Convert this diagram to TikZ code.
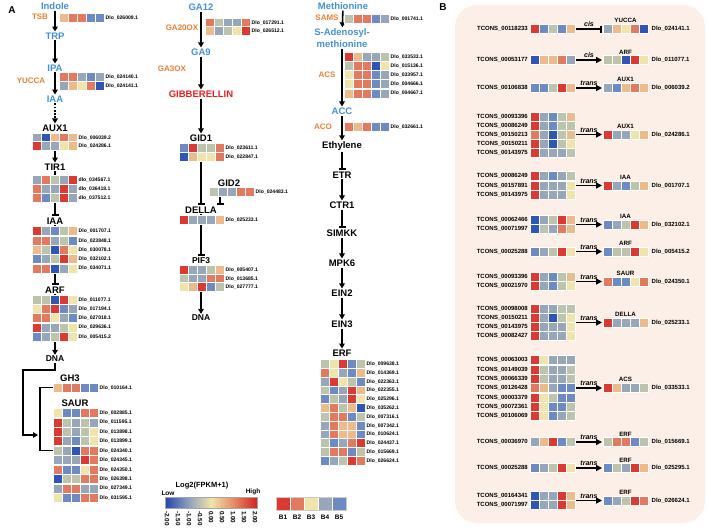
\documentclass[tikz,border=0pt]{standalone}
\usepackage{fontspec}
\setmainfont{Liberation Sans}
\usetikzlibrary{arrows.meta}

\definecolor{metblue}{HTML}{4291D8}
\definecolor{enzorange}{HTML}{EF7D32}
\definecolor{gared}{HTML}{EC1C1C}
\definecolor{panelbg}{HTML}{FCEFE7}
\definecolor{hmR}{HTML}{DA3A31}
\definecolor{hmS}{HTML}{E3795F}
\definecolor{hmP}{HTML}{EDBA8B}
\definecolor{hmY}{HTML}{EFE5AC}
\definecolor{hmG}{HTML}{BDC4AE}
\definecolor{hmL}{HTML}{97A6B8}
\definecolor{hmU}{HTML}{6E8AC2}
\definecolor{hmD}{HTML}{2F55B6}
\definecolor{lgD}{HTML}{2445AE}
\definecolor{lgM}{HTML}{8C9DBA}
\definecolor{lgO}{HTML}{E58A62}
\definecolor{lgR}{HTML}{D3211F}

\tikzset{
  panel/.style={font=\fontsize{10}{12}\selectfont\bfseries, inner sep=1pt},
  met/.style={text=metblue, font=\fontsize{9.5}{12}\selectfont\bfseries, inner sep=1pt, align=center},
  enz/.style={text=enzorange, font=\fontsize{8}{9}\selectfont\bfseries, inner sep=1pt},
  gene/.style={font=\fontsize{9.5}{11}\selectfont\bfseries, inner sep=1pt},
  dlo/.style={anchor=west, font=\fontsize{5.1}{6}\selectfont\bfseries, inner sep=0.5pt},
  tcons/.style={anchor=east, font=\fontsize{6}{7}\selectfont\bfseries, inner sep=0.5pt},
  bgene/.style={anchor=south, font=\fontsize{6.2}{7}\selectfont\bfseries, inner sep=1pt},
  bdlo/.style={anchor=west, font=\fontsize{6}{7}\selectfont\bfseries, inner sep=0.5pt},
  reg/.style={above, font=\fontsize{7}{8}\selectfont\bfseries\itshape, inner sep=1.2pt},
  hmcell/.style={draw=white, line width=0.5pt},
  act/.style={line width=1.6pt, -{Triangle[length=5pt,width=5.5pt]}},
  inh/.style={line width=1.6pt, -{Bar[width=7pt]}, shorten >=0.8pt},
  dotact/.style={act, dash pattern=on 1.8pt off 1.4pt},
  bact/.style={line width=1.8pt, -{Triangle[length=6pt,width=6pt]}},
  binh/.style={line width=1.8pt, -{Bar[width=7pt]}},
  link/.style={line width=1.5pt},
  legend/.style={font=\fontsize{7.5}{9}\selectfont\bfseries, inner sep=1pt},
  legsmall/.style={font=\fontsize{6.5}{8}\selectfont\bfseries, inner sep=1pt},
}

% one heatmap row of five cells, top left corner at (#1,#2)
\newcommand{\hmcells}[3]{%
  \foreach \cl [count=\k from 0] in {#3}
    \filldraw[hmcell, fill=hm\cl] ({#1+9*\k},{#2}) rectangle ++(9,9);%
}
\newcounter{dlocnt}
\newcommand{\hmrow}[4]{%
  \hmcells{#1}{#2}{#3}%
  \stepcounter{dlocnt}%
  \node[dlo] (dlo\arabic{dlocnt}) at ({#1+46},{#2+4.5}) {#4};%
}
% panel B: lncRNA row (centre y, cells, name)
\newcounter{tccnt}
\newcommand{\tcrow}[3]{%
  \hmcells{530}{#1-4.5}{#2}%
  \stepcounter{tccnt}%
  \node[tcons] (tc\arabic{tccnt}) at (528.5,{#1}) {#3};%
}
% panel B: target gene (centre y, gene, cells, Dlo, cis/trans, arrow style)
\newcounter{bcnt}
\newcommand{\target}[6]{%
  \stepcounter{bcnt}%
  \hmcells{603}{#1-4.5}{#3}%
  \node[bgene] (bg\arabic{bcnt}) at (625.5,{#1-4.8}) {#2};%
  \node[bdlo] (bd\arabic{bcnt}) at (651,{#1}) {#4};%
  \coordinate (bs\arabic{bcnt}) at (576,{#1});%
  \coordinate (be\arabic{bcnt}) at (602,{#1});%
  \draw[#6] (bs\arabic{bcnt}) -- node[reg] {#5} (be\arabic{bcnt});%
}

\begin{document}
\begin{tikzpicture}[x=1pt,y=-1pt]
\useasboundingbox (0,0) rectangle (708,531);

\fill[panelbg, rounded corners=22pt] (455,5) rectangle (705,523);

\node[panel] (lblA) at (12,10) {A};
\node[panel] (lblB) at (443,7) {B};

% auxin
\node[met] (indole) at (55,6) {Indole};
\node[enz] (tsb) at (40,17) {TSB};
\node[met] (trp) at (55,36) {TRP};
\node[met] (ipa) at (55,68) {IPA};
\node[enz] (yucca) at (31,81) {YUCCA};
\node[met] (iaa) at (55,99) {IAA};
\node[gene] (aux1) at (55,128) {AUX1};
\node[gene] (tir1) at (55,167) {TIR1};
\node[gene] (iaab) at (55,221) {IAA};
\node[gene] (arf) at (55,290) {ARF};
\node[gene, font=\fontsize{8.5}{10}\selectfont\bfseries] (dnal) at (55,359) {DNA};
\node[gene] (gh3) at (70,378) {GH3};
\node[gene] (saur) at (75,403) {SAUR};

% gibberellin
\node[met] (ga12) at (201,7) {GA12};
\node[enz] (ga20ox) at (182,28) {GA20OX};
\node[met] (ga9) at (201,52) {GA9};
\node[enz] (ga3ox) at (172,69) {GA3OX};
\node[gene, text=gared] (gib) at (201,94) {GIBBERELLIN};
\node[gene] (gid1) at (201,138) {GID1};
\node[gene] (gid2) at (229,183) {GID2};
\node[gene] (della) at (201,210) {DELLA};
\node[gene, font=\fontsize{8.5}{10}\selectfont\bfseries] (pif3) at (201,261) {PIF3};
\node[gene, font=\fontsize{8.5}{10}\selectfont\bfseries] (dnam) at (201,318) {DNA};

% ethylene
\node[met] (methionine) at (343,6) {Methionine};
\node[enz] (sams) at (327,18) {SAMS};
\node[met] (sam) at (342,38) {S-Adenosyl-\\methionine};
\node[enz] (acs) at (327,75) {ACS};
\node[met] (acc) at (342,111) {ACC};
\node[enz] (aco) at (323,127) {ACO};
\node[gene] (ethylene) at (342,146) {Ethylene};
\node[gene] (etr) at (342,175) {ETR};
\node[gene] (ctr1) at (342,205) {CTR1};
\node[gene] (simkk) at (342,233) {SIMKK};
\node[gene] (mpk6) at (342,263) {MPK6};
\node[gene] (ein2) at (342,293) {EIN2};
\node[gene] (ein3) at (342,324) {EIN3};
\node[gene] (erf) at (342,353) {ERF};

% connectors (heatmaps are drawn on top)
\draw[act] (indole) -- (trp);
\draw[act] (trp) -- (ipa);
\draw[act] (ipa) -- (iaa);
\draw[dotact] (iaa) -- (aux1);
\draw[act] (aux1) -- (tir1);
\draw[inh] (tir1) -- (iaab);
\draw[inh] (iaab) -- (arf);
\draw[act] (arf) -- (dnal);
\coordinate (dnaturn) at (23,370);
\coordinate (dnatip) at (38,435);
\draw[act] (dnal) |- (dnaturn) |- (dnatip);
\coordinate (gh3in) at (52.5,387.5);
\coordinate (saurin) at (52.5,450.6);
\draw[link] (gh3in) -- ++(-12.5,0) |- (saurin);

\draw[act] (ga12) -- (ga9);
\draw[act] (ga9) -- (gib);
\draw[act] (gib) -- (gid1);
\draw[inh] (gid1) -- (della);
\coordinate (gid2hm) at (220,196.5);
\draw[inh] (gid2hm) -- (gid2hm |- della.north);
\draw[inh] (della) -- (pif3);
\draw[act] (pif3) -- (dnam);

\draw[act] (methionine) -- (sam);
\draw[act] (sam) -- (acc);
\draw[act] (acc) -- (ethylene);
\draw[inh] (ethylene) -- (etr);
\draw[act] (etr) -- (ctr1);
\draw[inh] (ctr1) -- (simkk);
\draw[act] (simkk) -- (mpk6);
\draw[act] (mpk6) -- (ein2);
\draw[act] (ein2) -- (ein3);
\draw[act] (ein3) -- (erf);

% heatmaps, auxin
\hmrow{59}{13}{P,S,S,U,U}{Dlo\_026009.1}
\hmrow{59}{72.5}{S,S,L,U,L}{Dlo\_024140.1}
\hmrow{59}{81}{L,P,Y,S,D}{Dlo\_024141.1}
\hmrow{32}{133}{L,D,P,S,P}{Dlo\_006039.2}
\hmrow{32}{141.5}{R,L,L,Y,P}{Dlo\_024286.1}
\hmrow{32}{175}{L,S,G,L,R}{dlo\_034567.1}
\hmrow{32}{184}{S,L,L,R,L}{dlo\_036418.1}
\hmrow{32}{193}{S,U,G,R,L}{dlo\_037512.1}
\hmrow{32}{226.7}{R,L,U,G,P}{Dlo\_001707.1}
\hmrow{32}{236}{S,S,L,G,U}{Dlo\_023848.1}
\hmrow{32}{245.3}{P,G,D,S,Y}{Dlo\_030078.1}
\hmrow{32}{254.6}{U,L,G,R,P}{Dlo\_032102.1}
\hmrow{32}{263.9}{S,S,D,L,Y}{Dlo\_034071.1}
\hmrow{32}{295}{G,G,D,R,Y}{Dlo\_011077.1}
\hmrow{32}{304.3}{Y,S,R,U,L}{Dlo\_017194.1}
\hmrow{32}{313.6}{S,S,Y,L,U}{Dlo\_027018.1}
\hmrow{32}{322.9}{R,L,L,G,Y}{Dlo\_029636.1}
\hmrow{32}{332.2}{U,L,G,R,Y}{Dlo\_005415.2}
\hmrow{53}{383}{P,S,S,U,U}{Dlo\_010164.1}
\hmrow{53}{408.3}{Y,U,U,S,S}{Dlo\_002885.1}
\hmrow{53}{417.8}{R,G,L,G,L}{Dlo\_011595.1}
\hmrow{53}{427.2}{R,G,L,G,Y}{Dlo\_013898.1}
\hmrow{53}{436.7}{R,L,U,G,Y}{Dlo\_013899.1}
\hmrow{53}{446.1}{G,L,D,S,S}{Dlo\_024340.1}
\hmrow{53}{455.6}{L,L,L,R,S}{Dlo\_024345.1}
\hmrow{53}{465}{S,U,U,Y,S}{Dlo\_024350.1}
\hmrow{53}{474.5}{D,G,G,S,S}{Dlo\_026398.1}
\hmrow{53}{483.9}{L,S,S,L,L}{Dlo\_027349.1}
\hmrow{53}{493.4}{Y,U,U,S,S}{Dlo\_031595.1}

% heatmaps, gibberellin
\hmrow{205}{18}{S,G,L,L,S}{Dlo\_017291.1}
\hmrow{205}{26.7}{P,L,G,Y,R}{Dlo\_026512.1}
\hmrow{179}{143.3}{U,R,G,G,S}{Dlo\_023611.1}
\hmrow{179}{152.7}{D,P,Y,Y,S}{Dlo\_022847.1}
\hmrow{209}{187.7}{G,L,L,S,S}{Dlo\_024483.1}
\hmrow{179}{215}{R,L,L,L,P}{Dlo\_025233.1}
\hmrow{179}{265.5}{R,L,L,G,P}{Dlo\_005407.1}
\hmrow{179}{274.1}{G,L,L,S,S}{Dlo\_013685.1}
\hmrow{179}{282.7}{Y,P,R,U,G}{Dlo\_027777.1}

% heatmaps, ethylene
\hmrow{344}{14}{G,S,S,U,L}{Dlo\_001741.1}
\hmrow{344}{52}{R,P,L,L,G}{Dlo\_033533.1}
\hmrow{344}{61.2}{G,S,S,D,Y}{Dlo\_015136.1}
\hmrow{344}{70.4}{Y,S,S,U,L}{Dlo\_033957.1}
\hmrow{344}{79.6}{Y,S,S,U,L}{Dlo\_004666.1}
\hmrow{344}{88.8}{P,S,S,U,L}{Dlo\_004667.1}
\hmrow{344}{122.5}{S,P,S,U,U}{Dlo\_032661.1}
\hmrow{320}{359.5}{G,Y,R,U,G}{Dlo\_009638.1}
\hmrow{320}{368.3}{S,Y,L,U,P}{Dlo\_014369.1}
\hmrow{320}{377.1}{L,R,Y,G,U}{Dlo\_022363.1}
\hmrow{320}{385.9}{G,U,L,R,P}{Dlo\_022355.1}
\hmrow{320}{394.7}{U,G,L,R,Y}{Dlo\_025296.1}
\hmrow{320}{403.5}{P,S,G,P,D}{Dlo\_035262.1}
\hmrow{320}{412.3}{G,S,S,U,G}{Dlo\_007316.1}
\hmrow{320}{421.1}{L,S,P,P,U}{Dlo\_007342.1}
\hmrow{320}{429.9}{L,S,P,P,U}{Dlo\_010624.1}
\hmrow{320}{438.7}{G,U,L,S,R}{Dlo\_024437.1}
\hmrow{320}{447.5}{G,S,S,U,G}{Dlo\_015669.1}
\hmrow{320}{456.3}{U,L,G,R,S}{Dlo\_026624.1}

% legend
\node[legend] (lgtitle) at (202,486) {Log2(FPKM+1)};
\node[legsmall] (lglow) at (168,493) {Low};
\node[legsmall] (lghigh) at (253,492) {High};
\shade[left color=lgD, right color=hmY, middle color=lgM] (165,497) rectangle (211,508);
\shade[left color=hmY, right color=lgR, middle color=lgO] (211,497) rectangle (257,508);
\draw[gray!70, line width=0.8pt] (165,497) rectangle (257,508);
\foreach \v [count=\k from 0] in {-2.00,-1.50,-1.00,-0.50,0.00,0.50,1.00,1.50,2.00}
  \node[font=\fontsize{6.3}{7}\selectfont\bfseries, inner sep=0.5pt, rotate=-90, anchor=west] (tick\k) at ({167+11*\k},510.5) {\v};
\foreach \cl [count=\k from 1] in {R,S,Y,L,U} {
  \filldraw[hmcell, fill=hm\cl] ({262+14*\k},497) rectangle ++(14,13);
  \node[legsmall] (bl\k) at ({269+14*\k},517) {B\k};
}
\draw[gray!40, line width=0.6pt] (276,497) rectangle (346,510);

% panel B
\tcrow{29}{R,U,G,U,P}{TCONS\_00118233}
\target{29}{YUCCA}{L,P,Y,S,D}{Dlo\_024141.1}{cis}{binh}
\tcrow{60}{D,P,P,S,L}{TCONS\_00053177}
\target{60}{ARF}{G,G,D,R,Y}{Dlo\_011077.1}{cis}{bact}
\tcrow{88}{U,U,G,R,P}{TCONS\_00106838}
\target{88}{AUX1}{L,U,P,S,P}{Dlo\_006039.2}{trans}{bact}
\tcrow{116.5}{R,L,U,G,P}{TCONS\_00093396}
\tcrow{125.5}{R,L,U,G,G}{TCONS\_00086249}
\tcrow{134.5}{S,L,D,G,P}{TCONS\_00150213}
\tcrow{143.5}{R,L,D,G,Y}{TCONS\_00150211}
\tcrow{152.5}{R,L,L,L,G}{TCONS\_00143975}
\target{134.5}{AUX1}{R,L,L,Y,P}{Dlo\_024286.1}{trans}{bact}
\tcrow{176}{R,L,U,L,G}{TCONS\_00086249}
\tcrow{185.5}{R,L,L,L,Y}{TCONS\_00157891}
\tcrow{195}{R,L,L,L,Y}{TCONS\_00143975}
\target{185.5}{IAA}{R,L,U,G,P}{Dlo\_001707.1}{trans}{bact}
\tcrow{220}{D,L,G,R,P}{TCONS\_00062466}
\tcrow{229}{D,G,L,S,P}{TCONS\_00071997}
\target{224.5}{IAA}{U,L,G,R,P}{Dlo\_032102.1}{trans}{bact}
\tcrow{251.5}{U,L,G,R,Y}{TCONS\_00025288}
\target{251.5}{ARF}{U,G,G,R,Y}{Dlo\_005415.2}{trans}{bact}
\tcrow{277}{R,L,U,G,P}{TCONS\_00093396}
\tcrow{286}{R,L,U,G,Y}{TCONS\_00021970}
\target{281.5}{SAUR}{S,U,U,Y,S}{Dlo\_024350.1}{trans}{bact}
\tcrow{309}{R,L,L,G,G}{TCONS\_00098008}
\tcrow{318}{R,L,D,G,Y}{TCONS\_00150211}
\tcrow{327}{R,L,L,L,Y}{TCONS\_00143975}
\tcrow{336}{R,L,L,L,Y}{TCONS\_00082427}
\target{322.5}{DELLA}{R,L,L,L,P}{Dlo\_025233.1}{trans}{bact}
\tcrow{360}{R,Y,L,L,L}{TCONS\_00063003}
\tcrow{369.3}{R,G,L,L,G}{TCONS\_00149039}
\tcrow{378.7}{R,G,L,L,G}{TCONS\_00066339}
\tcrow{388}{S,P,L,U,U}{TCONS\_00126428}
\tcrow{397.3}{R,Y,G,U,U}{TCONS\_00003379}
\tcrow{406.7}{R,Y,U,U,G}{TCONS\_00072361}
\tcrow{416}{R,Y,U,L,G}{TCONS\_00106069}
\target{388}{ACS}{R,P,L,L,G}{Dlo\_033533.1}{trans}{bact}
\tcrow{442}{L,P,R,U,G}{TCONS\_00036970}
\target{442}{ERF}{G,S,S,U,G}{Dlo\_015669.1}{trans}{bact}
\tcrow{468}{U,L,G,R,Y}{TCONS\_00025288}
\target{468}{ERF}{U,G,L,R,P}{Dlo\_025295.1}{trans}{bact}
\tcrow{496}{D,L,L,R,P}{TCONS\_00164341}
\tcrow{505}{D,L,L,R,P}{TCONS\_00071997}
\target{500.5}{ERF}{U,L,G,R,S}{Dlo\_026624.1}{trans}{bact}

\end{tikzpicture}
\end{document}
